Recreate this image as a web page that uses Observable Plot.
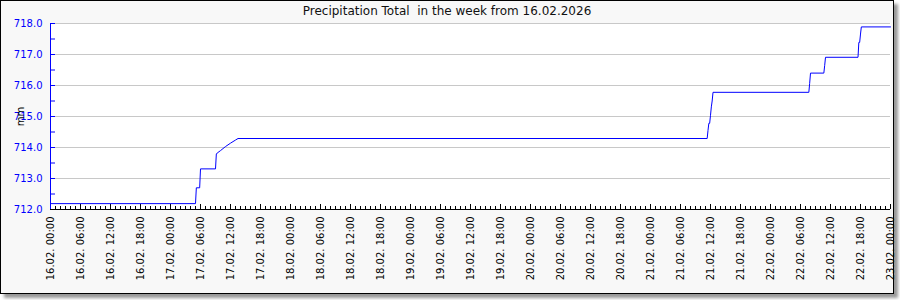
<!DOCTYPE html>
<html>
<head>
<meta charset="utf-8">
<script src="https://cdn.jsdelivr.net/npm/d3@7"></script>
<script src="https://cdn.jsdelivr.net/npm/@observablehq/plot@0.6"></script>
<style>
  html, body { margin: 0; padding: 0; background: #ffffff; }
  #frame {
    position: absolute; left: 0; top: 0;
    width: 892px; height: 292px;
    border: 1px solid #000;
    background: #f8f8f8;
    box-shadow: 4px 4px 3px #999;
    font-family: "DejaVu Sans", sans-serif;
  }
  #title {
    position: absolute; left: 0; top: 3px; width: 892px;
    text-align: center; font-size: 12px; line-height: 14px;
    color: #111; white-space: pre;
  }
  #chart { position: absolute; left: 0; top: 0; }
</style>
</head>
<body>
<div id="frame">
  <div id="chart"></div>
  <div id="title"></div>
</div>
<script>
// ---- data ----
const titleText = "Precipitation Total  in the week from 16.02.2026";
const yLabel = "mm";
const xStart = "2026-02-16T00:00";
const xEnd = "2026-02-23T00:00";
const yDomain = [712, 718];

const times = [
  "2026-02-16T00:00", "2026-02-17T05:00", "2026-02-17T05:10", "2026-02-17T05:50",
  "2026-02-17T06:00", "2026-02-17T09:00", "2026-02-17T09:10", "2026-02-17T09:20",
  "2026-02-17T10:00", "2026-02-17T11:00", "2026-02-17T12:00", "2026-02-17T13:00",
  "2026-02-17T13:30", "2026-02-21T11:20", "2026-02-21T11:30", "2026-02-21T11:40",
  "2026-02-21T11:50", "2026-02-21T12:00", "2026-02-21T12:10", "2026-02-21T12:20",
  "2026-02-21T12:30", "2026-02-22T07:40", "2026-02-22T07:50", "2026-02-22T08:00",
  "2026-02-22T10:40", "2026-02-22T10:50", "2026-02-22T11:00", "2026-02-22T17:30",
  "2026-02-22T17:40", "2026-02-22T17:50", "2026-02-22T18:00", "2026-02-22T18:10",
  "2026-02-23T00:00"
];
const values = [
  712.19, 712.19, 712.70, 712.70,
  713.31, 713.31, 713.79, 713.82,
  713.90, 714.03, 714.14, 714.24,
  714.29, 714.29, 714.55, 714.78,
  714.78, 715.04, 715.31, 715.50,
  715.78, 715.78, 716.07, 716.40,
  716.40, 716.64, 716.91, 716.91,
  717.39, 717.39, 717.66, 717.89,
  717.89
];
const yTickLabels = [712, 713, 714, 715, 716, 717, 718];
const yMinorTicks = [712, 712.5, 713, 713.5, 714, 714.5, 715, 715.5, 716, 716.5, 717, 717.5, 718];

// ---- build ----
const parse = s => new Date(s + ":00Z");
const data = times.map((t, i) => ({t: parse(t), v: values[i]}));
const x0 = parse(xStart), x1 = parse(xEnd);
const hourTicks = d3.utcHour.range(x0, new Date(+x1 + 1));
const sixHourTicks = d3.utcHour.every(6).range(x0, new Date(+x1 + 1));

const W = 892, H = 292;
const mL = 49, mR = 3, mT = 22, mB = 84;
const plotW = W - mL - mR, plotH = H - mT - mB;
const blue = "#0000ff";

document.getElementById("title").textContent = titleText;

const chart = Plot.plot({
  width: W, height: H,
  marginLeft: mL, marginRight: mR, marginTop: mT, marginBottom: mB,
  style: {background: "transparent", fontFamily: "DejaVu Sans", fontSize: "10px", overflow: "visible"},
  x: {type: "utc", domain: [x0, x1]},
  y: {domain: yDomain},
  marks: [
    Plot.frame({fill: "white", stroke: null}),
    Plot.gridY(yTickLabels, {stroke: "#c8c8c8", strokeOpacity: 1}),
    Plot.tickY(yMinorTicks, {y: d => d, stroke: blue, insetRight: plotW - 5}),
    Plot.tickX(hourTicks, {x: d => d, stroke: "#000", insetTop: plotH - 3}),
    Plot.tickX(sixHourTicks, {x: d => d, stroke: "#000", insetTop: plotH - 5}),
    Plot.ruleY([yDomain[0]], {stroke: "#000"}),
    Plot.ruleX([x0], {stroke: blue}),
    Plot.axisY(yTickLabels, {tickSize: 0, tickPadding: 8, tickFormat: d3.format(".1f"), fill: blue, label: null}),
    Plot.text([yLabel], {frameAnchor: "left", dx: -30, dy: 0, rotate: -90, textAnchor: "middle", lineAnchor: "middle", fill: "#000", fontSize: 10}),
    Plot.axisX(sixHourTicks, {tickSize: 0, tickPadding: 7, tickRotate: -90, tickFormat: d3.utcFormat("%d.%m. %H:%M"), fill: "#000", label: null}),
    Plot.line(data, {x: "t", y: "v", stroke: blue, strokeWidth: 1})
  ]
});
document.getElementById("chart").appendChild(chart);
</script>
</body>
</html>
